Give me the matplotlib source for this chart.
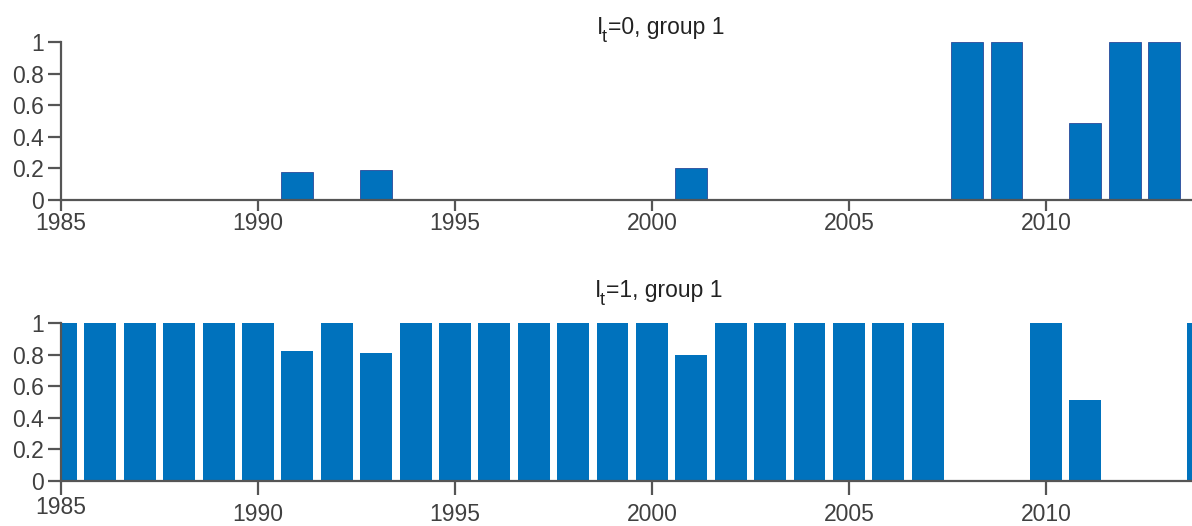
import matplotlib
matplotlib.use("Agg")
import matplotlib.pyplot as plt

plt.rcParams["font.family"] = ["Liberation Sans", "DejaVu Sans"]

# data
years_top = list(range(1985, 2014))
share_top = [0, 0, 0, 0, 0, 0, 0.18, 0, 0.19, 0, 0, 0, 0, 0, 0, 0,
             0.20, 0, 0, 0, 0, 0, 0, 1, 1, 0, 0.49, 1, 1]
years_bot = list(range(1985, 2015))
share_bot = [1, 1, 1, 1, 1, 1, 0.82, 1, 0.81, 1, 1, 1, 1, 1, 1, 1,
             0.80, 1, 1, 1, 1, 1, 1, 0, 0, 1, 0.51, 0, 0, 1]
title_rest = ["=0, group 1", "=1, group 1"]
yticks = [0, 0.2, 0.4, 0.6, 0.8, 1]
ytick_labels = ["0", "0.2", "0.4", "0.6", "0.8", "1"]
xticks = [1985, 1990, 1995, 2000, 2005, 2010]

BLUE = "#0072BD"
AXC = "#555555"
TXT = "#404040"
W, H = 1192, 526

fig = plt.figure(figsize=(11.92, 5.26), dpi=100)
ax_top = fig.add_axes([0.0512, 0.6198, 0.9488, 0.3004])
ax_bot = fig.add_axes([0.0512, 0.0856, 0.9488, 0.3004])

ax_top.bar(years_top, share_top, width=0.81, color=BLUE,
           edgecolor="#2a4a9a", linewidth=0.6)
ax_bot.bar(years_bot, share_bot, width=0.81, color=BLUE, linewidth=0)

for ax in (ax_top, ax_bot):
    ax.set_xlim(1985, 2013.71)
    ax.set_ylim(0, 1)
    ax.set_yticks(yticks)
    ax.set_yticklabels(ytick_labels)
    ax.set_xticks(xticks)
    ax.spines["top"].set_visible(False)
    ax.spines["right"].set_visible(False)
    for s in ("left", "bottom"):
        ax.spines[s].set_color(AXC)
        ax.spines[s].set_linewidth(1.6)
    ax.tick_params(axis="both", direction="out", width=1.6,
                   color=AXC, labelcolor=TXT, labelsize=16.5)
    ax.tick_params(axis="y", length=9.4, pad=3)

ax_top.tick_params(axis="x", length=8, pad=1)
ax_bot.tick_params(axis="x", length=10, pad=6)


def panel_title(x_px, base_px, rest):
    # "I" + lowered subscript "t" + rest, chained left to right
    t_i = fig.text(x_px / W, 1 - base_px / H, "I", ha="left", va="baseline",
                   fontsize=16.5, color="#222222")
    t_sub = fig.text(0, 0, "t", fontsize=13, color="#222222",
                     ha="left", va="baseline")
    t_sub.set_position(((x_px + 5) / W, 1 - (base_px + 8) / H))
    fig.texts.append(
        plt.Annotation(rest, xy=(1, 0), xycoords=(t_sub, t_i),
                       xytext=(1, 0), textcoords="offset points",
                       ha="left", va="bottom", fontsize=16.5,
                       color="#222222"))
    fig.texts[-1].set_figure(fig)


panel_title(597, 34, title_rest[0])
panel_title(595, 297, title_rest[1])

# bottom panel: 1985 label sits higher than the rest
ax_bot.set_xticklabels([""] + [str(x) for x in xticks[1:]])
ax_bot.annotate("1985", xy=(1985, 0), xycoords=("data", "axes fraction"),
                xytext=(0, -10.5), textcoords="offset points", ha="center",
                va="top", fontsize=16.5, color=TXT, annotation_clip=False)

fig.savefig("out.png", dpi=100)
